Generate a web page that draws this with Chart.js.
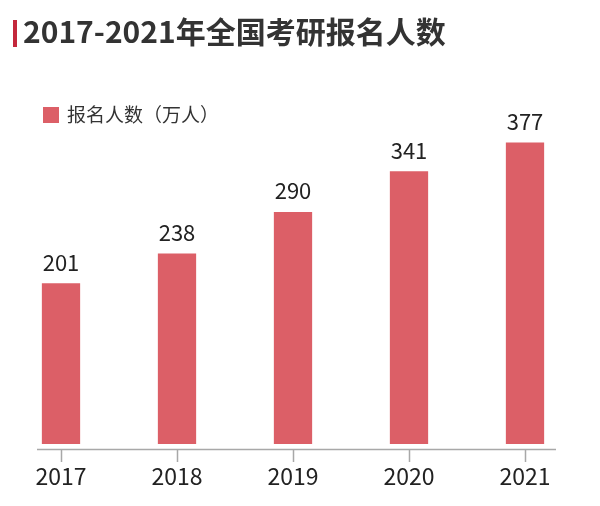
<!DOCTYPE html>
<html>
<head>
<meta charset="utf-8">
<script src="https://cdn.jsdelivr.net/npm/chart.js@4.4.1/dist/chart.umd.min.js"></script>
<style>
  html,body{margin:0;padding:0;background:#fff;}
  #wrap{position:relative;width:600px;height:506px;}
</style>
</head>
<body>
<div id="wrap"><canvas id="chart" width="600" height="506"></canvas></div>
<script>
const TITLE = "2017-2021年全国考研报名人数";
const SERIES_NAME = "报名人数（万人）";
const YEARS = ["2017","2018","2019","2020","2021"];
const APPLICANTS = [201, 238, 290, 341, 377];

const BAR_COLOR = "#dc5f67";
const FONT = "'Noto Sans CJK SC','Noto Sans',sans-serif";

// title, legend, axis line and value labels
const decor = {
  id:'decor',
  beforeDraw(chart){
    const ctx = chart.ctx;
    ctx.save();
    ctx.fillStyle = '#fff';
    ctx.fillRect(0,0,chart.width,chart.height);
    // red marker before title
    ctx.fillStyle = '#c4283c';
    ctx.fillRect(13,20,4,27);
    ctx.fillStyle = '#333';
    ctx.font = `bold 30px ${FONT}`;
    ctx.textBaseline = 'alphabetic';
    ctx.fillText(TITLE, 23, 43);
    // legend
    ctx.fillStyle = BAR_COLOR;
    ctx.fillRect(43,107,16,16);
    ctx.fillStyle = '#333';
    ctx.font = `19px ${FONT}`;
    ctx.textBaseline = 'middle';
    ctx.fillText(SERIES_NAME, 67, 115);
    ctx.restore();
  },
  afterDatasetsDraw(chart){
    const ctx = chart.ctx;
    const x = chart.scales.x;
    ctx.save();
    ctx.strokeStyle = '#a8a8a8';
    ctx.lineWidth = 1.5;
    ctx.beginPath();
    ctx.moveTo(37,449.5); ctx.lineTo(556,449.5);
    YEARS.forEach((y,i)=>{
      const px = Math.round(x.getPixelForValue(i)) + 0.5;
      ctx.moveTo(px,449.5); ctx.lineTo(px,462);
    });
    ctx.stroke();
    ctx.fillStyle = '#222';
    ctx.font = `22px ${FONT}`;
    ctx.textAlign = 'center';
    ctx.textBaseline = 'middle';
    chart.getDatasetMeta(0).data.forEach((bar,i)=>{
      ctx.fillText(String(APPLICANTS[i]), bar.x, bar.y - 21);
    });
    ctx.restore();
  }
};

new Chart(document.getElementById('chart'), {
  type:'bar',
  data:{
    labels: YEARS,
    datasets:[{
      label: SERIES_NAME,
      data: APPLICANTS,
      backgroundColor: BAR_COLOR,
      borderWidth:0,
      categoryPercentage:1,
      barPercentage:0.33
    }]
  },
  options:{
    responsive:false,
    animation:false,
    layout:{ padding:{ left:3, right:17, top:84, bottom:0 } },
    plugins:{ legend:{display:false}, tooltip:{enabled:false}, title:{display:false} },
    scales:{
      x:{
        grid:{display:false}, border:{display:false},
        ticks:{ color:'#222', padding:10, font:{ family:FONT, size:23 } },
        afterFit(scale){ scale.height = 62; }
      },
      y:{ display:false, min:0, max:450 }
    }
  },
  plugins:[decor]
});
</script>
</body>
</html>
